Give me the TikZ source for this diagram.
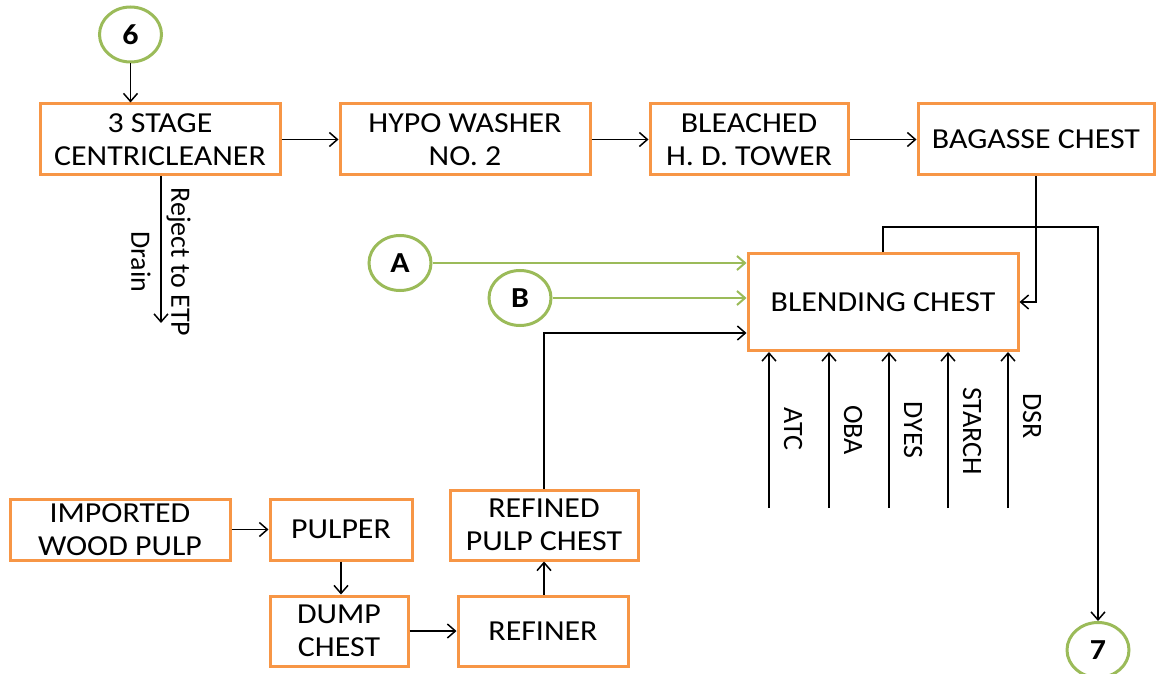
\documentclass[tikz,border=0pt]{standalone}
\usepackage{fontspec}
\setmainfont[FakeStretch=1.1]{Carlito}
\newfontfamily\tagfont{Carlito}
\usetikzlibrary{arrows.meta,shapes.geometric}
\definecolor{boxorange}{HTML}{F79646}
\definecolor{linkgreen}{HTML}{9BBB59}

\begin{document}
\begin{tikzpicture}[x=1pt, y=-1pt, >={Straight Barb[length=8pt,width=14pt]},
  box/.style={draw=boxorange, line width=3pt, align=center, inner sep=0pt,
    font=\fontsize{29}{33}\selectfont},
  link/.style={ellipse, draw=linkgreen, line width=3pt, minimum width=62pt,
    minimum height=55pt, inner sep=0pt, font=\fontsize{29}{33}\selectfont\bfseries},
  flow/.style={->, line width=1.5pt},
  feed/.style={->, draw=linkgreen, line width=2pt},
  tag/.style={rotate=-90, align=center, font=\tagfont\fontsize{28}{40}\selectfont}]
  \useasboundingbox (0,0) rectangle (1157,674);

  % top line
  \node[link] (n6) at (130.5,34.5) {6};
  \node[box, minimum width=240pt, minimum height=71pt] (cc) at (160,139.5) {3 STAGE\\CENTRICLEANER};
  \node[box, minimum width=250pt, minimum height=71pt] (hw) at (465,139.5) {HYPO WASHER\\NO. 2};
  \node[box, minimum width=198pt, minimum height=71pt] (bt) at (749,139.5) {BLEACHED\\H. D. TOWER};
  \node[box, minimum width=236pt, minimum height=71pt] (bg) at (1036,139.5) {BAGASSE CHEST};

  \draw[flow] (n6) -- (n6 |- cc.north);
  \draw[flow] (cc) -- (hw);
  \draw[flow] (hw) -- (bt);
  \draw[flow] (bt) -- (bg);

  \coordinate (drain) at (161,323);
  \draw[flow] (cc.south -| drain) -- (drain);
  \node[tag] (rej) at (161,262) {Reject to ETP\\Drain};

  % blending chest
  \node[box, minimum width=270pt, minimum height=97pt] (bl) at (883,302) {BLENDING CHEST};
  \node[link] (nA) at (400,263) {A};
  \node[link] (nB) at (520,298) {B};
  \draw[feed] (nA.east) -- (nA.east -| bl.west);
  \draw[feed] (nB.east) -- (nB.east -| bl.west);
  \draw[flow] (bg.south) |- (bl.east);

  \node[link] (n7) at (1098,650) {7};
  \coordinate (loop) at (1098,227);
  \draw[flow] (bl.north) |- (loop) -- (n7.north);

  \foreach \x/\chem/\ly in {769/ATC/429, 829/OBA/430, 889/DYES/430, 948/STARCH/431, 1008/DSR/416} {
    \coordinate (in\chem) at (\x,508);
    \draw[flow] (in\chem) -- (in\chem |- bl.south);
    \node[tag] (t\chem) at (\x+24,\ly) {\chem};
  }

  % wood pulp line
  \node[box, minimum width=220pt, minimum height=61pt] (iw) at (120,529.5) {IMPORTED\\WOOD PULP};
  \node[box, minimum width=142pt, minimum height=61pt] (pu) at (341,529.5) {PULPER};
  \node[box, minimum width=138pt, minimum height=70pt] (dc) at (339,631) {DUMP\\CHEST};
  \node[box, minimum width=170pt, minimum height=70pt] (rf) at (543,631) {REFINER};
  \node[box, minimum width=188pt, minimum height=70pt] (rp) at (544,525) {REFINED\\PULP CHEST};

  \draw[flow] (iw) -- (pu);
  \draw[flow] (pu) -- (dc.north -| pu);
  \draw[flow] (dc) -- (rf);
  \draw[flow] (rf.north -| rp) -- (rp);
  \draw[flow] (rp.north) |- ([yshift=-31pt]bl.west);
\end{tikzpicture}
\end{document}
